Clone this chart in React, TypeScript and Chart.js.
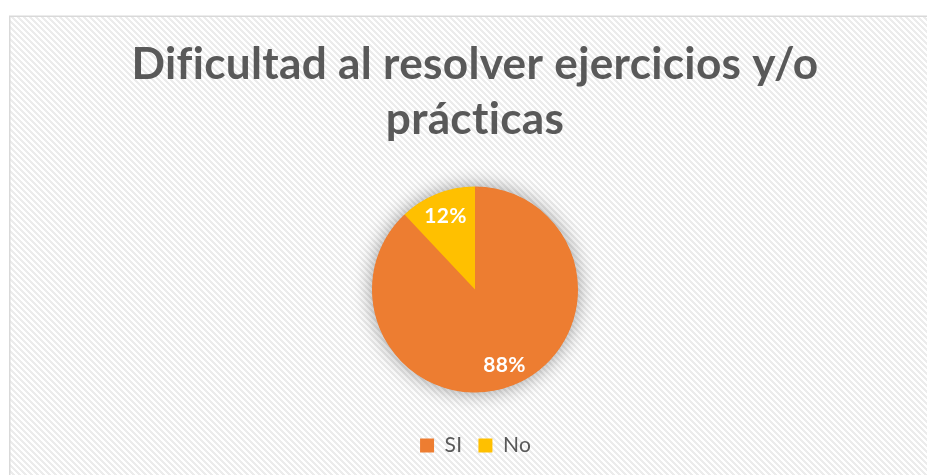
import React, { useEffect, useRef } from "react";
import { Chart, registerables } from "chart.js";

Chart.register(...registerables);

const CATEGORIES = ["SI", "No"];
const VALUES = [88, 12];
const COLORS = ["#ED7D31", "#FFC000"];
const TITLE_LINES = ["Dificultad al resolver ejercicios y/o", "prácticas"];

const FAMILY = "Lato";
const TEXT_COLOR = "#595959";
const SPACING = "0.3px";

function measure(font: string, text: string): number {
  const c = document.createElement("canvas").getContext("2d")! as any;
  c.font = font;
  c.letterSpacing = SPACING;
  return c.measureText(text).width;
}

const backgroundPlugin = {
  id: "bgPattern",
  beforeDraw(chart: any) {
    const { ctx, width, height } = chart;
    ctx.save();
    ctx.fillStyle = "#ffffff";
    ctx.fillRect(0, 0, width, height);
    const tile = document.createElement("canvas");
    const P = 6;
    tile.width = P;
    tile.height = P;
    const tctx = tile.getContext("2d")!;
    tctx.fillStyle = "#ffffff";
    tctx.fillRect(0, 0, P, P);
    tctx.fillStyle = "#ececec";
    for (let x = 0; x < P; x++) {
      for (let y = 0; y < P; y++) {
        const d = (((x - y) % P) + P) % P;
        if (d < 3) tctx.fillRect(x, y, 1, 1);
      }
    }
    const pattern = ctx.createPattern(tile, "repeat");
    ctx.fillStyle = pattern;
    ctx.fillRect(10, 17, width + 20, height + 20);
    ctx.strokeStyle = "#d9d9d9";
    ctx.lineWidth = 1.5;
    ctx.strokeRect(9.75, 16.25, width + 20, height + 20);
    ctx.restore();
    ctx.letterSpacing = SPACING;
  },
};

const shadowPlugin = {
  id: "pieShadow",
  beforeDatasetsDraw(chart: any) {
    const meta = chart.getDatasetMeta(0);
    const arc = meta.data[0];
    if (!arc) return;
    const { x, y, outerRadius } = arc.getProps(["x", "y", "outerRadius"], true);
    const ctx = chart.ctx;
    ctx.save();
    ctx.shadowColor = "rgba(0,0,0,0.4)";
    ctx.shadowBlur = 20;
    ctx.fillStyle = COLORS[0];
    ctx.beginPath();
    ctx.arc(x, y, outerRadius - 0.5, 0, Math.PI * 2);
    ctx.fill();
    ctx.restore();
  },
};

const labelPlugin = {
  id: "sliceLabels",
  afterDatasetsDraw(chart: any) {
    const meta = chart.getDatasetMeta(0);
    const ctx = chart.ctx;
    const total = VALUES.reduce((a, b) => a + b, 0);
    ctx.save();
    ctx.font = `bold 21px ${FAMILY}`;
    ctx.fillStyle = "#ffffff";
    ctx.textAlign = "center";
    ctx.textBaseline = "middle";
    meta.data.forEach((arc: any, i: number) => {
      const { x, y, startAngle, endAngle, outerRadius } = arc.getProps(
        ["x", "y", "startAngle", "endAngle", "outerRadius"],
        true
      );
      const mid = (startAngle + endAngle) / 2;
      const r = outerRadius * 0.78;
      const label = Math.round((VALUES[i] / total) * 100) + "%";
      ctx.fillText(label, x + Math.cos(mid) * r, y + Math.sin(mid) * r + 1.5);
    });
    ctx.restore();
  },
};

export default function App() {
  const ref = useRef<HTMLCanvasElement | null>(null);

  useEffect(() => {
    if (!ref.current) return;
    const titleSize =
      (100 * 681) / measure(`bold 100px ${FAMILY}`, TITLE_LINES[0]);
    const lineH = 55.6;
    const padT = 81.7 - lineH / 2 - 0.387 * titleSize;
    const areaTop = 160;
    const padB = areaTop - padT - 2 * lineH;

    const chart = new Chart(ref.current, {
      type: "pie",
      data: {
        labels: CATEGORIES,
        datasets: [
          {
            data: VALUES,
            backgroundColor: COLORS,
            borderWidth: 0,
            radius: 103,
          } as any,
        ],
      },
      options: {
        animation: false,
        responsive: false,
        events: [],
        layout: { padding: { left: 23, right: 0, top: 0, bottom: 9 } },
        plugins: {
          tooltip: { enabled: false },
          title: {
            display: true,
            text: TITLE_LINES,
            color: TEXT_COLOR,
            font: {
              family: FAMILY,
              weight: "bold",
              size: titleSize,
              lineHeight: lineH + "px",
            },
            padding: { top: padT, bottom: padB },
          },
          legend: {
            display: true,
            position: "bottom",
            labels: {
              color: TEXT_COLOR,
              font: { family: FAMILY, size: 21 },
              boxWidth: 14,
              boxHeight: 14,
              padding: 16,
            },
          },
        },
      },
      plugins: [backgroundPlugin, shadowPlugin, labelPlugin],
    });
    return () => chart.destroy();
  }, []);

  return (
    <div style={{ position: "fixed", left: 0, top: 0, width: 927, height: 475 }}>
      <canvas ref={ref} width={927} height={475} />
    </div>
  );
}
